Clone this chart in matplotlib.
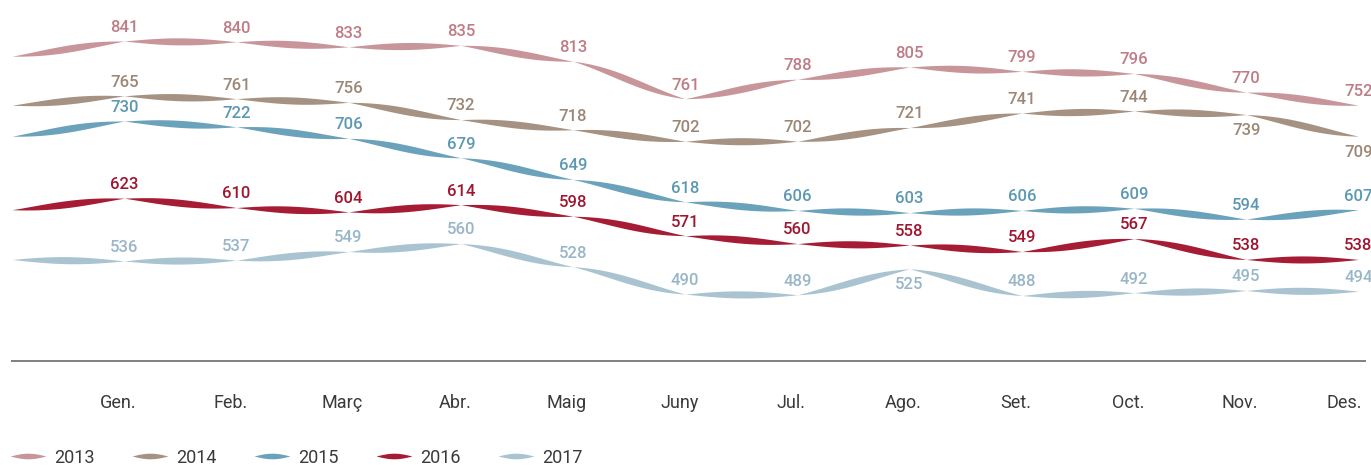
import numpy as np
import matplotlib.pyplot as plt

plt.rcParams['font.family'] = ['Roboto', 'DejaVu Sans']

months = ['Gen.', 'Feb.', 'Març', 'Abr.', 'Maig', 'Juny',
          'Jul.', 'Ago.', 'Set.', 'Oct.', 'Nov.', 'Des.']
years = ['2013', '2014', '2015', '2016', '2017']

# desembre 2012 (punt inicial de la primera cinta)
start_2013 = 820
v2013 = [841, 840, 833, 835, 813, 761, 788, 805, 799, 796, 770, 752]
v2014 = [765, 761, 756, 732, 718, 702, 702, 721, 741, 744, 739, 709]
v2015 = [730, 722, 706, 679, 649, 618, 606, 603, 606, 609, 594, 607]
v2016 = [623, 610, 604, 614, 598, 571, 560, 558, 549, 567, 538, 538]
v2017 = [536, 537, 549, 560, 528, 490, 489, 525, 488, 492, 495, 494]

colors = ['#c8959b', '#a69282', '#6aa2bb', '#a61c35', '#a9c3d1']
text_colors = ['#bf7c86', '#9c8776', '#5c98b3', '#9e1630', '#98b6c8']
# etiquetes que van per sota del punt
below = {('2014', 10), ('2014', 11), ('2017', 7)}

W, H = 1371, 465
fig = plt.figure(figsize=(W / 100, H / 100), dpi=100)

ax = fig.add_axes([0, 0, 1, 1])
ax.set_xlim(-0.107, 12.112)
ax.set_ylim(252.9, 897.9)
ax.axis('off')


def ribbon(ax, xs, ys, color, width, bend=0.35, n=80):
    t = np.linspace(0, 1, n)
    for i in range(len(xs) - 1):
        x = xs[i] + (xs[i + 1] - xs[i]) * t
        lin = ys[i] + (ys[i + 1] - ys[i]) * t
        ease = ys[i] + (ys[i + 1] - ys[i]) * (1 - np.cos(np.pi * t)) / 2
        yc = lin * (1 - bend) + ease * bend
        h = width / 2 * np.sin(np.pi * t)
        ax.fill_between(x, yc - h, yc + h, color=color, lw=0)


series = [v2013, v2014, v2015, v2016, v2017]
prev = start_2013
for year, vals, col, tcol in zip(years, series, colors, text_colors):
    ys = [prev] + vals
    ribbon(ax, np.arange(len(ys)), ys, col, 9.8)
    for i, v in enumerate(vals):
        off = -11.5 if (year, i) in below else 9.8
        ax.annotate(str(v), (i + 1, v), xytext=(0, off), textcoords='offset points',
                    ha='center', va='center', color=tcol, fontsize=12,
                    fontweight='medium')
    prev = vals[-1]

# capa en píxels per a eix, mesos i llegenda
px = fig.add_axes([0, 0, 1, 1], facecolor='none')
px.set_xlim(0, W)
px.set_ylim(H, 0)
px.axis('off')

px.plot([11, 1366], [361, 361], color='#808080', lw=1.4, solid_capstyle='butt')

for i, m in enumerate(months):
    xm = 12 + (i + 1) * 112.2 - 6
    if m == 'Des.':
        px.text(1362, 408, m, ha='right', va='baseline', fontsize=13,
                color='#3a3a3a')
    else:
        px.text(xm, 408, m, ha='center', va='baseline', fontsize=13,
                color='#3a3a3a')

t = np.linspace(0, 1, 60)
for k, (year, col) in enumerate(zip(years, colors)):
    x0 = 10 + k * 122
    xx = x0 + 36 * t
    hh = 2.8 * np.sin(np.pi * t)
    px.fill_between(xx, 456 - hh, 456 + hh, color=col, lw=0)
    px.text(x0 + 44, 463, year, ha='left', va='baseline', fontsize=13,
            color='#3a3a3a')

fig.savefig('out.png', dpi=100)
